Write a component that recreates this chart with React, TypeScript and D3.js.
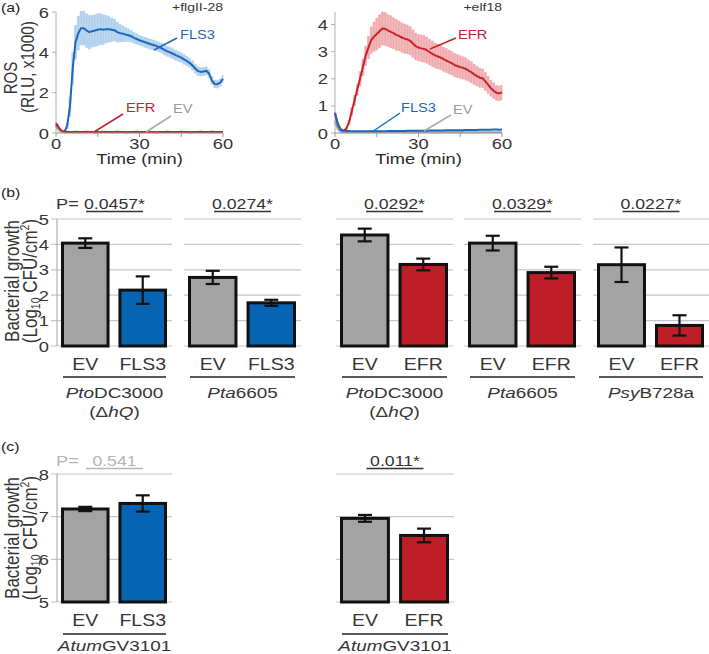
import React from 'react';
import * as d3 from 'd3';

const FONT = '"Liberation Sans", Arial, Helvetica, sans-serif';
const SX = 1.22;

// ---------- Panel (a) data ----------
const timeMin = [0,1,2,3,4,5,6,7,8,9,10,11,12,13,14,15,16,17,18,19,20,21,22,23,24,25,26,27,28,29,30,31,32,33,34,35,36,37,38,39,40,41,42,43,44,45,46,47,48,49,50,51,52,53,54,55,56,57,58,59,60];

const flgFLS3 = [0.4,0.2,0.08,0.05,0.35,1.3,3.2,4.5,4.95,5.2, 5.2,5.08,5.0,5.05,5.08,5.12,5.15,5.12,5.15,5.14, 5.12,5.1,5.0,4.95,4.93,4.88,4.85,4.8,4.72,4.66, 4.6,4.55,4.5,4.45,4.4,4.36,4.32,4.26,4.2,4.12, 4.05,4.0,3.93,3.86,3.8,3.74,3.65,3.57,3.48,3.35, 3.2,3.07,3.03,3.05,3.09,2.95,2.6,2.43,2.42,2.5, 2.68];
const flgFLS3Err = [0.05,0.05,0.03,0.03,0.15,0.5,0.8,0.85,0.85,0.85, 0.85,0.85,0.85,0.8,0.8,0.8,0.78,0.75,0.7,0.65, 0.6,0.55,0.5,0.45,0.4,0.36,0.33,0.3,0.28,0.27, 0.26,0.26,0.26,0.26,0.26,0.26,0.26,0.26,0.26,0.26, 0.26,0.26,0.26,0.26,0.25,0.25,0.25,0.25,0.25,0.24, 0.24,0.23,0.22,0.22,0.21,0.21,0.2,0.2,0.2,0.2, 0.2];
const flgEFR = [0.5,0.28,0.12,0.07,0.06,0.05,0.05,0.06,0.05,0.05, 0.05,0.06,0.05,0.05,0.04,0.05,0.05,0.06,0.05,0.05, 0.05,0.05,0.06,0.05,0.05,0.04,0.05,0.05,0.05,0.06, 0.05,0.05,0.05,0.06,0.05,0.05,0.04,0.05,0.05,0.05, 0.06,0.05,0.05,0.05,0.05,0.06,0.05,0.05,0.04,0.05, 0.05,0.05,0.06,0.05,0.05,0.05,0.06,0.05,0.05,0.05, 0.05];
const flgEV = [0.3,0.14,0.06,0.04,0.04,0.04,0.04,0.04,0.04,0.04, 0.04,0.04,0.04,0.04,0.04,0.04,0.04,0.04,0.04,0.04, 0.04,0.04,0.04,0.04,0.04,0.04,0.04,0.04,0.04,0.04, 0.04,0.04,0.04,0.04,0.04,0.04,0.04,0.04,0.04,0.04, 0.04,0.04,0.04,0.04,0.04,0.04,0.04,0.04,0.04,0.04, 0.04,0.04,0.04,0.04,0.04,0.04,0.04,0.04,0.04,0.04, 0.04];

const elfEFR = [0.72,0.35,0.14,0.08,0.15,0.38,0.78,1.2,1.6,2.0, 2.42,2.85,3.15,3.42,3.55,3.65,3.75,3.85,3.84,3.78, 3.73,3.68,3.62,3.58,3.52,3.48,3.45,3.4,3.3,3.2, 3.15,3.12,3.1,3.05,2.98,2.92,2.86,2.82,2.78,2.72, 2.67,2.62,2.57,2.5,2.47,2.43,2.4,2.36,2.3,2.24, 2.16,2.1,2.04,2.02,1.9,1.78,1.65,1.56,1.48,1.46, 1.5];
const elfEFRErr = [0.05,0.05,0.03,0.03,0.05,0.1,0.15,0.2,0.22,0.28, 0.32,0.37,0.42,0.5,0.55,0.6,0.62,0.62,0.62,0.6, 0.6,0.58,0.58,0.56,0.55,0.55,0.54,0.53,0.52,0.5, 0.5,0.5,0.5,0.49,0.48,0.48,0.47,0.46,0.46,0.45, 0.45,0.45,0.44,0.44,0.43,0.43,0.42,0.42,0.4,0.4, 0.38,0.37,0.36,0.35,0.34,0.32,0.3,0.3,0.28,0.28, 0.28];
const elfFLS3 = [0.75,0.3,0.12,0.08,0.07,0.07,0.06,0.06,0.06,0.06, 0.06,0.06,0.06,0.06,0.06,0.06,0.06,0.06,0.06,0.07, 0.07,0.07,0.07,0.07,0.07,0.07,0.08,0.08,0.08,0.08, 0.08,0.08,0.08,0.08,0.09,0.09,0.09,0.09,0.09,0.09, 0.1,0.1,0.1,0.1,0.1,0.1,0.1,0.11,0.11,0.11, 0.11,0.11,0.12,0.12,0.12,0.12,0.12,0.13,0.13,0.12, 0.13];
const elfEV = [0.45,0.15,0.05,0.03,0.03,0.03,0.03,0.03,0.03,0.03, 0.03,0.03,0.03,0.03,0.03,0.03,0.03,0.03,0.03,0.03, 0.03,0.03,0.03,0.03,0.03,0.03,0.03,0.03,0.03,0.03, 0.03,0.03,0.03,0.03,0.03,0.03,0.03,0.03,0.03,0.03, 0.03,0.03,0.03,0.03,0.03,0.03,0.03,0.03,0.03,0.03, 0.03,0.03,0.03,0.03,0.03,0.03,0.03,0.03,0.03,0.03, 0.03];

const rosTicksFlg = [0, 2, 4, 6];
const rosTicksElf = [0, 1, 2, 3, 4];
const timeTickLabels = [0, 30, 60];
const timeTicksAll = [0, 15, 30, 45, 60];

// ---------- Panel (b) data ----------
const barCategoriesB = [['EV', 'FLS3'], ['EV', 'FLS3'], ['EV', 'EFR'], ['EV', 'EFR'], ['EV', 'EFR']];
const strainItalicB = ['Pto', 'Pta', 'Pto', 'Pta', 'Psy'];
const strainRestB = ['DC3000', '6605', 'DC3000', '6605', 'B728a'];
const strainDeltaB = [true, false, true, false, false];
const evMeanB = [4.05, 2.7, 4.37, 4.05, 3.2];
const evErrB = [0.19, 0.26, 0.25, 0.29, 0.68];
const recMeanB = [2.2, 1.7, 3.21, 2.89, 0.81];
const recErrB = [0.54, 0.12, 0.23, 0.23, 0.4];
const pValuesB = ['0.0457*', '0.0274*', '0.0292*', '0.0329*', '0.0227*'];
const growthTicksB = [0, 1, 2, 3, 4, 5];

// ---------- Panel (c) data ----------
const barCategoriesC = [['EV', 'FLS3'], ['EV', 'EFR']];
const strainItalicC = ['Atum', 'Atum'];
const strainRestC = ['GV3101', 'GV3101'];
const evMeanC = [7.18, 6.96];
const evErrC = [0.05, 0.08];
const recMeanC = [7.31, 6.56];
const recErrC = [0.19, 0.16];
const pValuesC = ['0.541', '0.011*'];
const pSignificantC = [false, true];
const growthTicksC = [5, 6, 7, 8];

// ---------- styles ----------
const C = {
  blue: '#1b68bb', red: '#c8232b', gray: '#a2a2a2',
  blueBand: '#bcd7f0', redBand: '#f2b8bb',
  barGray: '#a3a3a3', barBlue: '#0764b3', barRed: '#bd1e27',
  text: '#353535', grid: '#c6c6c6', axis: '#b0b0b0',
};

function T(props: any) {
  const { x, y, size, anchor = 'start', fill = C.text, rotate = false, children, ...rest } = props;
  const tr = `translate(${x},${y}) scale(${SX},1)` + (rotate ? ' rotate(-90)' : '');
  return (
    <text transform={tr} fontSize={size} textAnchor={anchor} fill={fill} {...rest}>{children}</text>
  );
}

function TimePanel(props: any) {
  const { x0, x1, yMax, yTop, series, band, ticks, label, annotations } = props;
  const xs = d3.scaleLinear().domain([0, 60]).range([x0, x1]);
  const ys = d3.scaleLinear().domain([0, yMax]).range([133, yTop]);
  const area = d3.area<number>()
    .x((_, i) => xs(timeMin[i]))
    .y0((_, i) => ys(Math.max(0, band.values[i] - band.err[i])))
    .y1((_, i) => ys(band.values[i] + band.err[i]))
    .curve(d3.curveStep);
  const line = d3.line<number>().x((_, i) => xs(timeMin[i])).y((d) => ys(d));
  return (
    <g>
      <line x1={x0} x2={x0} y1={12} y2={133} stroke={C.axis} strokeWidth={1} />
      {ticks.map((t: number) => (
        <g key={t}>
          <line x1={x0 - 4} x2={x0} y1={ys(t)} y2={ys(t)} stroke={C.axis} />
          <T x={x0 - 7} y={ys(t) + 5.5} size={15} anchor="end">{t}</T>
        </g>
      ))}
      <path d={area(band.values) || ''} fill={band.color} />
      {timeMin.map((t, i) => (
        <line key={t} x1={xs(t)} x2={xs(t)}
          y1={ys(Math.max(0, band.values[i] - band.err[i]))} y2={ys(band.values[i] + band.err[i])}
          stroke={band.stripe} strokeWidth={0.8} />
      ))}
      {series.map((s: any, i: number) => (
        <path key={i} d={line(s.values) || ''} fill="none" stroke={s.color} strokeWidth={s.width} strokeLinejoin="round" />
      ))}
      <line x1={x0} x2={x1} y1={133} y2={133} stroke="#9a9a9a" strokeWidth={1} />
      {timeTicksAll.map((t) => (
        <line key={t} x1={xs(t)} x2={xs(t)} y1={133} y2={137} stroke="#9a9a9a" />
      ))}
      {timeTickLabels.map((t) => (
        <T key={t} x={xs(t)} y={148.5} size={15} anchor="middle">{t}</T>
      ))}
      <T x={(x0 + x1) / 2} y={164} size={15} anchor="middle" fill="#2a2a2a">Time (min)</T>
      <T x={x1} y={11} size={11.5} anchor="end">{label}</T>
      {annotations.map((a: any, i: number) => (
        <g key={i}>
          <line x1={a.lx1} y1={a.ly1} x2={a.lx2} y2={a.ly2} stroke={a.lineColor} strokeWidth={1.5} />
          <T x={a.tx} y={a.ty} size={12} fill={a.color}>{a.text}</T>
        </g>
      ))}
    </g>
  );
}

function BarGroup(props: any) {
  const { x0, x1, ys, ticks, cats, ev, evE, rec, recE, recColor, pval, pColor, pY,
    showAxis, strainI, strainR, delta, labelY, sepY, strainY, domainMin } = props;
  const xb = d3.scaleBand<string>().domain(cats).range([x0 + 4, x1 - 5]).paddingInner(0.155).paddingOuter(0);
  const vals = [ev, rec];
  const errs = [evE, recE];
  const fills = [C.barGray, recColor];
  const cx = (x0 + x1) / 2;
  return (
    <g>
      {ticks.map((t: number) => (
        <line key={t} x1={showAxis ? x0 - 6 : x0} x2={x1} y1={ys(t)} y2={ys(t)} stroke={C.grid} strokeWidth={1.2} />
      ))}
      {showAxis && (
        <g>
          <line x1={x0} x2={x0} y1={ys(ticks[0])} y2={ys(ticks[ticks.length - 1])} stroke={C.axis} strokeWidth={1.2} />
          {ticks.map((t: number) => (
            <T key={t} x={x0 - 8} y={ys(t) + 5.5} size={15} anchor="end">{t}</T>
          ))}
        </g>
      )}
      {cats.map((c: string, i: number) => {
        const bx = xb(c)!;
        const bw = xb.bandwidth();
        const mx = bx + bw / 2;
        return (
          <g key={c}>
            <rect x={bx + 1.5} y={ys(vals[i])} width={bw - 3} height={ys(domainMin) - ys(vals[i])}
              fill={fills[i]} stroke="#111" strokeWidth={3} />
            <line x1={mx} x2={mx} y1={ys(vals[i] - errs[i])} y2={ys(vals[i] + errs[i])} stroke="#111" strokeWidth={2.2} />
            <line x1={mx - 7} x2={mx + 7} y1={ys(vals[i] - errs[i])} y2={ys(vals[i] - errs[i])} stroke="#111" strokeWidth={2.2} />
            <line x1={mx - 7} x2={mx + 7} y1={ys(vals[i] + errs[i])} y2={ys(vals[i] + errs[i])} stroke="#111" strokeWidth={2.2} />
            <T x={mx} y={labelY} size={16} anchor="middle">{c}</T>
          </g>
        );
      })}
      <T x={cx} y={pY} size={14.5} anchor="middle" fill={pColor}>{pval}</T>
      <line x1={cx - 28.5} x2={cx + 28.5} y1={pY + 2.5} y2={pY + 2.5} stroke={pColor} strokeWidth={1.3} />
      <line x1={x0 + 6} x2={x1 - 6} y1={sepY} y2={sepY} stroke="#222" strokeWidth={1.6} />
      <T x={cx} y={strainY} size={15.5} anchor="middle">
        <tspan fontStyle="italic">{strainI}</tspan>{strainR}
      </T>
      {delta && (
        <T x={cx} y={strainY + 19} size={15.5} anchor="middle">
          (Δ<tspan fontStyle="italic">hQ</tspan>)
        </T>
      )}
    </g>
  );
}

function YTitle({ cy, size }: any) {
  return (
    <g>
      <T x={18.5} y={cy} size={size} anchor="middle" rotate>Bacterial growth</T>
      <T x={36.5} y={cy} size={size} anchor="middle" rotate>
        (Log<tspan fontSize={size * 0.62} dy={3}>10</tspan><tspan dy={-3}> CFU/cm</tspan><tspan fontSize={size * 0.62} dy={-6}>2</tspan><tspan dy={6}>)</tspan>
      </T>
    </g>
  );
}

const layoutB = [
  { x0: 57, x1: 172 },
  { x0: 184, x1: 301 },
  { x0: 336, x1: 453 },
  { x0: 464, x1: 581 },
  { x0: 593, x1: 709 },
];
const layoutC = [
  { x0: 57, x1: 172 },
  { x0: 336, x1: 454 },
];

export default function App() {
  React.useEffect(() => { document.body.style.margin = '0'; }, []);
  const ysB = d3.scaleLinear().domain([0, 5]).range([346, 219]);
  const ysC = d3.scaleLinear().domain([5, 8]).range([602, 474]);
  const recColorsB = [C.barBlue, C.barBlue, C.barRed, C.barRed, C.barRed];
  const recColorsC = [C.barBlue, C.barRed];
  return (
    <svg width={709} height={654} style={{ display: 'block', position: 'absolute', left: 0, top: 0, background: '#fff' }} fontFamily={FONT}>
      {/* Panel (a) */}
      <T x={1} y={12} size={13} fill="#222">(a)</T>
      <T x={16.5} y={78} size={15} anchor="middle" rotate>ROS</T>
      <T x={34} y={67} size={15.5} anchor="middle" rotate>(RLU, x1000)</T>
      <TimePanel
        x0={56} x1={223} yMax={6} yTop={12} ticks={rosTicksFlg} label="+flgII-28"
        band={{ values: flgFLS3, err: flgFLS3Err, color: C.blueBand, stripe: '#a9cbea' }}
        series={[
          { values: flgFLS3, color: C.blue, width: 2 },
          { values: flgEV, color: C.gray, width: 2 },
          { values: flgEFR, color: C.red, width: 2 },
        ]}
        annotations={[
          { text: 'FLS3', color: C.blue, lineColor: C.blue, tx: 180, ty: 39, lx1: 154, ly1: 50, lx2: 177, ly2: 38 },
          { text: 'EFR', color: C.red, lineColor: C.red, tx: 126, ty: 112, lx1: 94, ly1: 132, lx2: 123, ly2: 114 },
          { text: 'EV', color: '#9a9a9a', lineColor: '#aaaaaa', tx: 173, ty: 113, lx1: 146, ly1: 132, lx2: 171, ly2: 116 },
        ]}
      />
      <TimePanel
        x0={335} x1={502} yMax={4} yTop={24.5} ticks={rosTicksElf} label="+elf18"
        band={{ values: elfEFR, err: elfEFRErr, color: C.redBand, stripe: '#eca3a7' }}
        series={[
          { values: elfEFR, color: C.red, width: 2 },
          { values: elfEV, color: C.gray, width: 2 },
          { values: elfFLS3, color: C.blue, width: 2 },
        ]}
        annotations={[
          { text: 'EFR', color: C.red, lineColor: C.red, tx: 458, ty: 39, lx1: 430, ly1: 49, lx2: 456, ly2: 38 },
          { text: 'FLS3', color: C.blue, lineColor: C.blue, tx: 401, ty: 112, lx1: 372, ly1: 132, lx2: 400, ly2: 113 },
          { text: 'EV', color: '#9a9a9a', lineColor: '#aaaaaa', tx: 453, ty: 114, lx1: 424, ly1: 131, lx2: 451, ly2: 115 },
        ]}
      />

      {/* Panel (b) */}
      <T x={1} y={197} size={13} fill="#222">(b)</T>
      <YTitle cy={281} size={17} />
      <T x={56} y={209} size={15} fill={C.text}>P=</T>
      {layoutB.map((l, i) => (
        <BarGroup key={i} x0={l.x0} x1={l.x1} ys={ysB} ticks={growthTicksB} domainMin={0}
          cats={barCategoriesB[i]} ev={evMeanB[i]} evE={evErrB[i]} rec={recMeanB[i]} recE={recErrB[i]}
          recColor={recColorsB[i]} pval={pValuesB[i]} pColor="#333" pY={209} showAxis={i === 0}
          strainI={strainItalicB[i]} strainR={strainRestB[i]} delta={strainDeltaB[i]}
          labelY={369.5} sepY={377} strainY={398} />
      ))}

      {/* Panel (c) */}
      <T x={1} y={451} size={13} fill="#222">(c)</T>
      <YTitle cy={538} size={17} />
      <T x={56} y={466} size={15} fill="#b5b5b5">P=</T>
      {layoutC.map((l, i) => (
        <BarGroup key={i} x0={l.x0} x1={l.x1} ys={ysC} ticks={growthTicksC} domainMin={5}
          cats={barCategoriesC[i]} ev={evMeanC[i]} evE={evErrC[i]} rec={recMeanC[i]} recE={recErrC[i]}
          recColor={recColorsC[i]} pval={pValuesC[i]} pColor={pSignificantC[i] ? '#333' : '#b5b5b5'} pY={466}
          showAxis={i === 0} strainI={strainItalicC[i]} strainR={strainRestC[i]} delta={false}
          labelY={626} sepY={634} strainY={650.5} />
      ))}
    </svg>
  );
}
